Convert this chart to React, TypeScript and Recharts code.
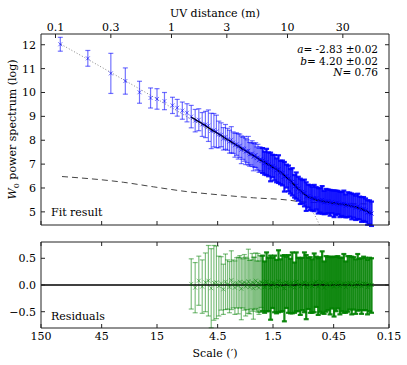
import React from 'react';
import { ComposedChart, Scatter, Line, XAxis, YAxis, ErrorBar, ReferenceLine } from 'recharts';

// ---- axis ticks ----
const uvTicks = [0.1, 0.3, 1, 3, 10, 30];
const uvTickLabels = ['0.1', '0.3', '1', '3', '10', '30'];
const scaleTickLabels = ['150', '45', '15', '4.5', '1.5', '0.45', '0.15'];
const scaleTickValues = [150, 45, 15, 4.5, 1.5, 0.45, 0.15];
const SCALE_TIMES_UV = 11.25; // scale (') x UV distance (m)
const powerTicks = [5, 6, 7, 8, 9, 10, 11, 12];
const residTicks = [-0.5, 0, 0.5];
const residTickLabels = ['\u22120.5', '0.0', '0.5'];

// ---- low-k points (not fitted) ----
const lowUv = [0.11, 0.19, 0.30, 0.40, 0.53, 0.66, 0.75, 0.87, 1.02, 1.12, 1.24, 1.36];
const lowPower = [12.02, 11.43, 10.80, 10.48, 10.01, 9.77, 9.73, 9.64, 9.46, 9.36, 9.24, 9.15];
const lowErr = [0.29, 0.33, 0.84, 0.55, 0.46, 0.42, 0.43, 0.36, 0.34, 0.35, 0.36, 0.38];

// ---- fitted range ----
const fitUv = [
  1.48, 1.60, 1.72, 1.84, 1.96, 2.08, 2.20, 2.32, 2.44, 2.56, 2.68, 2.80, 2.92, 3.04, 3.16, 3.28, 3.40, 3.52, 3.64,
  3.76, 3.88, 4.00, 4.12, 4.24, 4.36, 4.48, 4.60, 4.72, 4.84, 4.96, 5.08, 5.20, 5.32, 5.44, 5.56, 5.68, 5.80, 5.92,
  6.1, 6.35, 6.6, 6.87, 7.15, 7.44, 7.74, 8.05, 8.37, 8.7, 9.05, 9.4, 9.8, 10.2, 10.6, 11.0, 11.5, 11.9, 12.4, 12.9,
  13.4, 14.0, 14.5, 15.1, 15.7, 16.3, 17.0, 17.7, 18.4, 19.1, 19.9, 20.7, 21.5, 22.4, 23.3, 24.2, 25.2, 26.2, 27.2,
  28.3, 29.4, 30.6, 31.8, 33.1, 34.4, 35.8, 37.2, 38.7, 40.3, 41.9, 43.5, 45.3, 47.1, 49.0, 51.0, 53.0,
];
const fitModel = [
  8.97, 8.87, 8.78, 8.69, 8.61, 8.53, 8.45, 8.38, 8.32, 8.26, 8.20, 8.14, 8.08, 8.03, 7.98, 7.93, 7.88, 7.84, 7.80,
  7.75, 7.71, 7.67, 7.63, 7.59, 7.56, 7.52, 7.49, 7.45, 7.42, 7.39, 7.36, 7.33, 7.30, 7.27, 7.24, 7.21, 7.18, 7.15,
  7.12, 7.08, 7.03, 6.98, 6.93, 6.88, 6.83, 6.77, 6.72, 6.66, 6.60, 6.53, 6.45, 6.38, 6.30, 6.22, 6.12, 6.04, 5.96,
  5.89, 5.82, 5.74, 5.68, 5.63, 5.60, 5.57, 5.54, 5.51, 5.49, 5.47, 5.45, 5.44, 5.42, 5.41, 5.39, 5.38, 5.37, 5.36,
  5.34, 5.33, 5.32, 5.31, 5.29, 5.28, 5.26, 5.24, 5.22, 5.20, 5.18, 5.15, 5.12, 5.09, 5.05, 5.01, 4.97, 4.93,
];
const residual = [
  0.02, -0.05, 0.08, -0.03, 0.05, 0.08, -0.06, 0.04, 0.05, -0.02, 0.03, -0.08, 0.06, 0.01, -0.04, 0.09, 0.02, -0.05,
  0.04, -0.01, 0.06, -0.07, 0.03, 0.05, -0.03, 0.02, 0.07, -0.04, 0.01, 0.05, -0.06, 0.03, 0.08, -0.02, 0.04, -0.05,
  0.02, 0.06,
  0.03, -0.04, 0.06, 0.01, -0.05, 0.04, 0.02, -0.03, 0.07, -0.01, 0.03, -0.06, 0.05, 0.02, -0.02, 0.04, -0.05, 0.06,
  0.01, -0.03, 0.02, 0.05, -0.04, 0.03, 0.0, -0.02, 0.04, 0.06, -0.03, 0.01, 0.05, -0.05, 0.02, 0.03, -0.01, 0.04,
  -0.03, 0.02, 0.05, -0.02, 0.01, 0.03, -0.04, 0.02, 0.04, -0.01, 0.03, -0.03, 0.05, 0.01, -0.02, 0.03, 0.02, -0.04,
  0.01, 0.0,
];
const fitErr: (number | number[])[] = [
  0.47, 0.47, 0.46, 0.50, 0.55, 0.66, 0.74, 0.70, 0.68, 0.56, 0.50, 0.47, 0.52, 0.46, 0.48, 0.55, 0.45, 0.50, 0.47,
  0.53, 0.49, 0.58, 0.46, 0.52, 0.55, 0.48, 0.60, 0.50, 0.46, 0.54, 0.58, 0.49, 0.52, 0.47, 0.55, 0.50, 0.53, 0.48,
  0.52, 0.48, 0.55, 0.50, 0.60, 0.47, 0.53, 0.50, 0.58, 0.49, 0.52, 0.62, 0.48, 0.54, 0.51, 0.57, 0.47, 0.55, 0.50,
  0.53, 0.49, 0.56, 0.60, 0.48, 0.52, 0.50, 0.55, 0.47, 0.53, 0.51, 0.58, 0.49, 0.52, 0.50, 0.54, 0.48, 0.56, 0.51,
  0.49, 0.53, 0.50, 0.55, 0.48, 0.52, 0.50, 0.54, 0.49, 0.51, 0.53, 0.48, 0.52, 0.50, 0.49, 0.51, 0.50, [0.52, 0.5],
];
const SPARSE_COUNT = 38;

// ---- model components ----
const powerLawUv = [0.1115, 0.295, 0.653, 1.56, 3.2, 5.8, 10.5, 14.2, 17.3, 19.4];
const powerLawValue = [12.02, 10.86, 9.895, 8.81, 7.88, 7.05, 6.08, 5.37, 4.83, 4.32];
const noiseUv = [0.1138, 0.384, 0.697, 1.35, 2.62, 5.07, 9.85, 12.8, 20, 53];
const noiseValue = [6.48, 6.24, 6.05, 5.85, 5.71, 5.59, 5.5, 5.43, 5.38, 5.33];

const UV_DOMAIN = [0.075, 75];
const P_DOMAIN = [4.45, 12.45];
const R_DOMAIN = [-0.805, 0.805];

const FONT = "'DejaVu Serif', 'Liberation Serif', serif";
const tickStyle = { fontFamily: FONT, fontSize: 11, fill: '#000' };
const SPINE = '#222';

const xMark = (color: string) => (props: any) => {
  const { cx, cy } = props;
  if (cx == null || cy == null) return <g />;
  const s = 2;
  return (
    <path
      d={`M${cx - s},${cy - s}L${cx + s},${cy + s}M${cx - s},${cy + s}L${cx + s},${cy - s}`}
      stroke={color}
      strokeWidth={1}
      fill="none"
    />
  );
};

export default function App() {
  const lowData = lowUv.map((uv, i) => ({ uv, p: lowPower[i], e: lowErr[i] }));
  const fitData = fitUv.map((uv, i) => ({
    uv,
    m: fitModel[i],
    p: fitModel[i] + residual[i],
    r: residual[i],
    e: fitErr[i],
  }));
  const sparse = fitData.slice(0, SPARSE_COUNT);
  const dense = fitData.slice(SPARSE_COUNT);
  const powerLaw = powerLawUv.map((uv, i) => ({ uv, v: powerLawValue[i] }));
  const noise = noiseUv.map((uv, i) => ({ uv, v: noiseValue[i] }));
  const scaleTickPos = scaleTickValues.map((s) => SCALE_TIMES_UV / s);

  const blueLight = 'rgba(0,0,255,0.55)';
  const blueDense = 'rgba(0,0,255,0.9)';
  const greenLight = 'rgba(0,128,0,0.5)';
  const greenDense = 'rgba(0,128,0,0.92)';

  return (
    <div style={{ position: 'absolute', left: 0, top: 0, width: 407, height: 365, background: '#fff' }}>
      <div style={{ position: 'absolute', left: 0, top: 0 }}>
        <ComposedChart width={407} height={232} margin={{ top: 4, right: 16, bottom: 5, left: 5 }}>
          <XAxis
            xAxisId="uv"
            dataKey="uv"
            type="number"
            scale="log"
            domain={UV_DOMAIN}
            allowDataOverflow
            orientation="top"
            height={30}
            ticks={uvTicks}
            interval={0}
            tickFormatter={(_v: any, i: number) => uvTickLabels[i]}
            tick={tickStyle}
            tickSize={-4}
            tickMargin={7}
            stroke={SPINE}
          />
          <XAxis
            xAxisId="sc"
            dataKey="uv"
            type="number"
            scale="log"
            domain={UV_DOMAIN}
            allowDataOverflow
            orientation="bottom"
            height={2}
            ticks={scaleTickPos}
            interval={0}
            tickFormatter={() => ''}
            tickSize={-4}
            stroke={SPINE}
          />
          <YAxis
            yAxisId="p"
            type="number"
            domain={P_DOMAIN}
            allowDataOverflow
            width={36}
            ticks={powerTicks}
            interval={0}
            tickFormatter={(v: number) => String(v)}
            tick={tickStyle}
            tickSize={-4}
            tickMargin={9}
            stroke={SPINE}
          />
          <YAxis
            yAxisId="pr"
            orientation="right"
            type="number"
            domain={P_DOMAIN}
            allowDataOverflow
            width={2}
            ticks={powerTicks}
            interval={0}
            tickFormatter={() => ''}
            tickSize={-4}
            stroke={SPINE}
          />
          <Line
            xAxisId="uv"
            yAxisId="p"
            data={noise}
            dataKey="v"
            type="monotone"
            stroke="#444"
            strokeWidth={1}
            strokeDasharray="6 4"
            dot={false}
            isAnimationActive={false}
          />
          <Line
            xAxisId="uv"
            yAxisId="p"
            data={powerLaw}
            dataKey="v"
            type="monotone"
            stroke="#888"
            strokeWidth={1}
            strokeDasharray="1 2"
            dot={false}
            isAnimationActive={false}
          />
          <Scatter xAxisId="uv" yAxisId="p" data={lowData} dataKey="p" shape={xMark(blueLight)} isAnimationActive={false}>
            <ErrorBar dataKey="e" direction="y" width={2.5} stroke={blueLight} strokeWidth={1.2} />
          </Scatter>
          <Scatter xAxisId="uv" yAxisId="p" data={sparse} dataKey="p" shape={xMark(blueLight)} isAnimationActive={false}>
            <ErrorBar dataKey="e" direction="y" width={2.5} stroke={blueLight} strokeWidth={1.2} />
          </Scatter>
          <Scatter xAxisId="uv" yAxisId="p" data={dense} dataKey="p" shape={xMark(blueDense)} isAnimationActive={false}>
            <ErrorBar dataKey="e" direction="y" width={2.5} stroke={blueDense} strokeWidth={2.2} />
          </Scatter>
          <Line
            xAxisId="uv"
            yAxisId="p"
            data={fitData}
            dataKey="m"
            type="monotone"
            stroke="#000"
            strokeWidth={1.5}
            dot={false}
            isAnimationActive={false}
          />
        </ComposedChart>
      </div>

      <div style={{ position: 'absolute', left: 0, top: 232 }}>
        <ComposedChart width={407} height={133} margin={{ top: 8, right: 16, bottom: 7, left: 5 }}>
          <XAxis
            xAxisId="t"
            dataKey="uv"
            type="number"
            scale="log"
            domain={UV_DOMAIN}
            allowDataOverflow
            orientation="top"
            height={2}
            ticks={scaleTickPos}
            interval={0}
            tickFormatter={() => ''}
            tickSize={-4}
            stroke={SPINE}
          />
          <XAxis
            xAxisId="sc"
            dataKey="uv"
            type="number"
            scale="log"
            domain={UV_DOMAIN}
            allowDataOverflow
            orientation="bottom"
            height={30}
            ticks={scaleTickPos}
            interval={0}
            tickFormatter={(_v: any, i: number) => scaleTickLabels[i]}
            tick={tickStyle}
            tickSize={-4}
            tickMargin={8}
            stroke={SPINE}
          />
          <YAxis
            yAxisId="r"
            type="number"
            domain={R_DOMAIN}
            allowDataOverflow
            width={36}
            ticks={residTicks}
            interval={0}
            tickFormatter={(_v: any, i: number) => residTickLabels[i]}
            tick={tickStyle}
            tickSize={-4}
            tickMargin={9}
            stroke={SPINE}
          />
          <YAxis
            yAxisId="rr"
            orientation="right"
            type="number"
            domain={R_DOMAIN}
            allowDataOverflow
            width={2}
            ticks={residTicks}
            interval={0}
            tickFormatter={() => ''}
            tickSize={-4}
            stroke={SPINE}
          />
          <Scatter xAxisId="sc" yAxisId="r" data={sparse} dataKey="r" shape={xMark(greenLight)} isAnimationActive={false}>
            <ErrorBar dataKey="e" direction="y" width={2.5} stroke={greenLight} strokeWidth={1.2} />
          </Scatter>
          <Scatter xAxisId="sc" yAxisId="r" data={dense} dataKey="r" shape={xMark(greenDense)} isAnimationActive={false}>
            <ErrorBar dataKey="e" direction="y" width={2.5} stroke={greenDense} strokeWidth={2.2} />
          </Scatter>
          <ReferenceLine xAxisId="sc" yAxisId="r" y={0} stroke="#000" strokeWidth={1.6} />
        </ComposedChart>
      </div>

      <svg
        width={407}
        height={365}
        style={{ position: 'absolute', left: 0, top: 0, pointerEvents: 'none' }}
        fontFamily={FONT}
      >
        <text x={215} y={16.5} fontSize={11} textAnchor="middle">UV distance (m)</text>
        <text x={215} y={357} fontSize={11} textAnchor="middle">Scale (′)</text>
        <text transform="translate(16,129.5) rotate(-90)" fontSize={11} textAnchor="middle">
          <tspan fontStyle="italic">W</tspan>
          <tspan fontSize={8} dy={2.5}>0</tspan>
          <tspan dy={-2.5}> power spectrum (log)</tspan>
        </text>
        <text x={378} y={53} fontSize={10.5} textAnchor="end">
          <tspan fontStyle="italic">a</tspan>= -2.83 ±0.02
        </text>
        <text x={378} y={64.5} fontSize={10.5} textAnchor="end">
          <tspan fontStyle="italic">b</tspan>= 4.20 ±0.02
        </text>
        <text x={378} y={75.5} fontSize={10.5} textAnchor="end">
          <tspan fontStyle="italic">N</tspan>= 0.76
        </text>
        <text x={51} y={215.5} fontSize={11}>Fit result</text>
        <text x={51} y={320} fontSize={11}>Residuals</text>
      </svg>
    </div>
  );
}
